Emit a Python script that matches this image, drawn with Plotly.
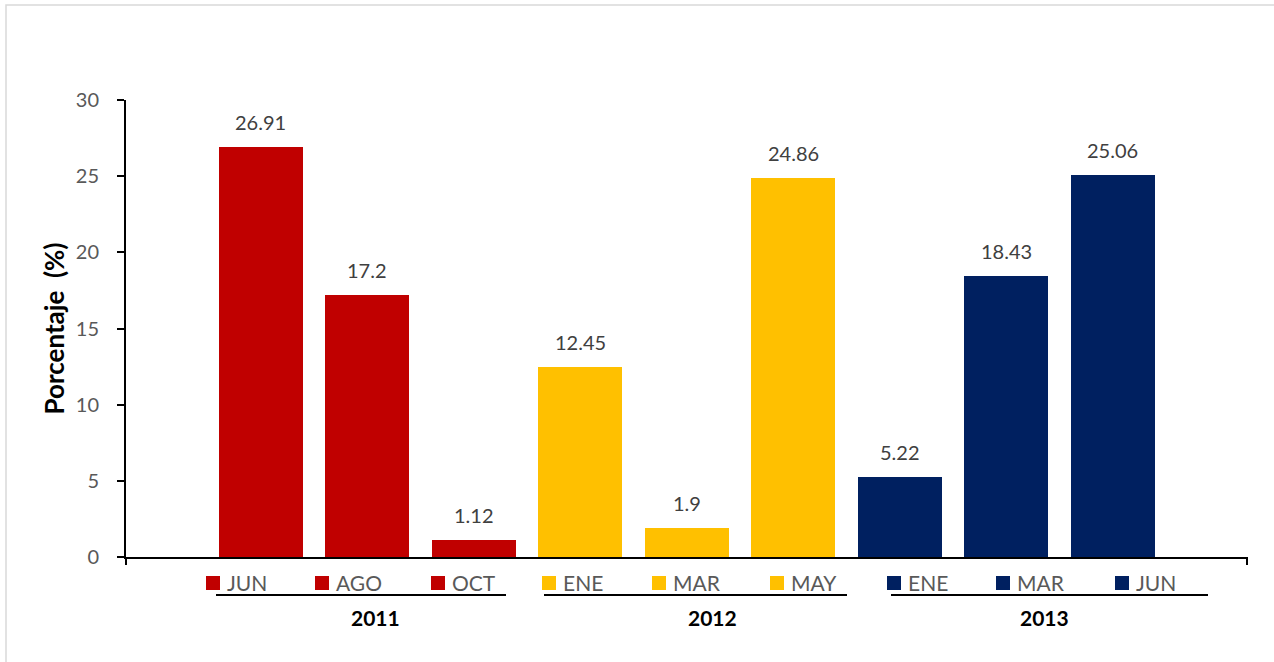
import plotly.graph_objects as go

# Monthly percentages grouped by year
months = ["JUN", "AGO", "OCT", "ENE", "MAR", "MAY", "ENE", "MAR", "JUN"]
years = ["2011", "2011", "2011", "2012", "2012", "2012", "2013", "2013", "2013"]
values = [26.91, 17.2, 1.12, 12.45, 1.9, 24.86, 5.22, 18.43, 25.06]
year_labels = ["2011", "2012", "2013"]
year_colors = {"2011": "#C00000", "2012": "#FFC000", "2013": "#002060"}

W, H = 1274, 662
L, R, T, B = 126, 27, 100, 105
PW, PH = W - L - R, H - T - B


def px(x):
    return (x - L) / PW


def py(y):
    return (H - B - y) / PH


FONT = "Lato"
x_idx = list(range(len(values)))
colors = [year_colors[y] for y in years]

fig = go.Figure()
fig.add_trace(go.Bar(
    x=x_idx, y=values, marker=dict(color=colors, line=dict(width=0)),
    width=0.79, showlegend=False, hoverinfo="y",
))

annotations = []
# value labels above each bar
for i, v in zip(x_idx, values):
    annotations.append(dict(
        x=i, y=v, xref="x", yref="y", text=f"{v:g}", showarrow=False,
        yanchor="middle", yshift=25,
        font=dict(family=FONT, size=20, color="#404040"),
    ))

# legend-style key under the axis
key_x = [206, 315, 431, 542, 652, 770, 887, 996, 1115]
shapes = []
for kx, m, y in zip(key_x, months, years):
    shapes.append(dict(
        type="rect", xref="paper", yref="paper",
        x0=px(kx), x1=px(kx + 14), y0=py(590), y1=py(576),
        fillcolor=year_colors[y], line=dict(width=0),
    ))
    annotations.append(dict(
        x=px(kx + 19), y=py(582), xref="paper", yref="paper", text=m,
        showarrow=False, xanchor="left", yanchor="middle",
        font=dict(family=FONT, size=21, color="#595959"),
    ))

# year group brackets and labels
group_lines = [(216, 506), (544, 847), (891, 1208)]
year_centers = [375, 712, 1044]
for (a, b), yc, yl in zip(group_lines, year_centers, year_labels):
    shapes.append(dict(
        type="line", xref="paper", yref="paper",
        x0=px(a), x1=px(b), y0=py(595), y1=py(595),
        line=dict(color="#000000", width=2),
    ))
    annotations.append(dict(
        x=px(yc), y=py(617), xref="paper", yref="paper", text=f"<b>{yl}</b>",
        showarrow=False, xanchor="center", yanchor="middle",
        font=dict(family=FONT, size=21, color="#000000"),
    ))

# small end ticks on the category axis
for xe in (126, 1247):
    shapes.append(dict(
        type="line", xref="paper", yref="paper",
        x0=px(xe), x1=px(xe), y0=py(557), y1=py(565),
        line=dict(color="#000000", width=2),
    ))

# chart frame
shapes.append(dict(
    type="rect", xref="paper", yref="paper",
    x0=px(6), x1=px(1290), y0=py(5), y1=py(680),
    line=dict(color="#D9D9D9", width=1.5), fillcolor="rgba(0,0,0,0)", layer="below",
))

fig.update_layout(
    width=W, height=H,
    margin=dict(l=L, r=R, t=T, b=B, pad=0),
    paper_bgcolor="white", plot_bgcolor="white",
    font=dict(family=FONT),
    bargap=0,
    xaxis=dict(
        range=[-1.265, 9.261], showticklabels=False, ticks="",
        showgrid=False, zeroline=False,
        showline=True, linecolor="#000000", linewidth=2,
    ),
    yaxis=dict(
        range=[0, 30], dtick=5, tick0=0,
        ticks="outside", ticklen=7, tickwidth=1.5, tickcolor="#000000",
        ticklabelstandoff=14,
        tickfont=dict(family=FONT, size=20, color="#595959"),
        showgrid=False, zeroline=False,
        showline=True, linecolor="#000000", linewidth=2,
        title=dict(text="<b>Porcentaje&nbsp;&nbsp;(%)</b>", standoff=4,
                   font=dict(family=FONT, size=26, color="#000000")),
    ),
    shapes=shapes,
    annotations=annotations,
)

fig.write_html("out.html")
